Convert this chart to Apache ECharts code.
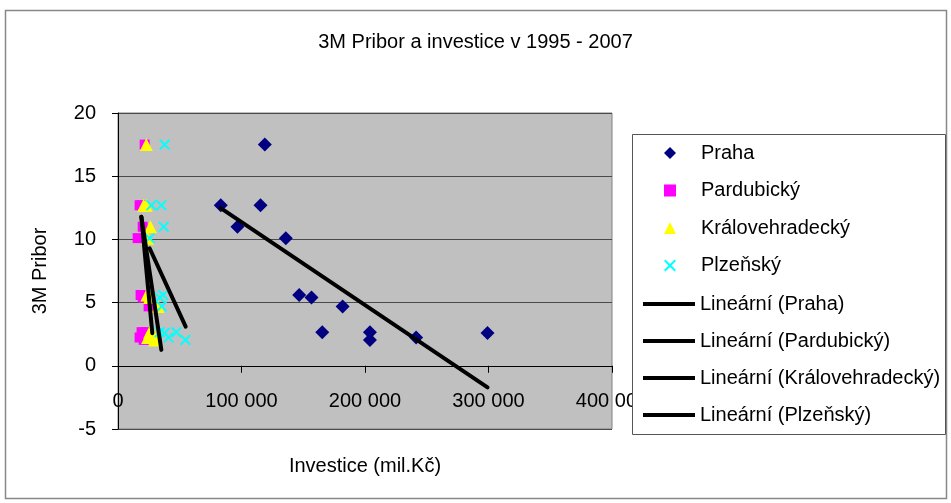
<!DOCTYPE html>
<html>
<head>
<meta charset="utf-8">
<script src="https://cdn.jsdelivr.net/npm/echarts@6/dist/echarts.min.js"></script>
<style>
  html, body { margin: 0; padding: 0; background: #fff; }
  #chart { width: 951px; height: 503px; }
</style>
</head>
<body>
<div id="chart"></div>
<script>
// roky a 3M Pribor (spolecne pro vsechny kraje)
const years = [1995, 1996, 1997, 1998, 1999, 2000, 2001, 2002, 2003, 2004, 2005, 2006, 2007];
const pribor = [11.0, 12.7, 17.5, 12.7, 10.1, 5.6, 5.4, 4.7, 2.66, 2.66, 2.05, 2.24, 2.6];

// investice (mil.Kc) podle kraju
const praha = [96700, 83200, 118900, 115400, 135900, 146700, 156700, 181900, 165400, 204000, 204000, 241400, 299200];
const pardubicky = [20000, 17500, 21600, 19100, 15900, 18300, 20000, 24800, 19100, 21600, 20800, 17500, 22400];
const kralovehradecky = [26200, 22900, 22900, 20800, 24000, 23400, 25600, 32400, 25600, 27200, 29700, 24000, 28000];
const plzensky = [37000, 27000, 37800, 35100, 25600, 36600, 33700, 35400, 33700, 47300, 54600, 41000, 37800];

// linearni trendy (koncove body)
const trendPraha = [[83200, 12.47], [299200, -1.71]];
const trendPardubicky = [[18900, 11.8], [27800, 2.58]];
const trendKralovehradecky = [[18900, 11.8], [35100, 1.26]];
const trendPlzensky = [[25600, 9.3], [54800, 3.1]];

const xTicks = [0, 100000, 200000, 300000, 400000];
const yTicks = [-5, 0, 5, 10, 15, 20];

const regionNames = ['Praha', 'Pardubický', 'Královehradecký', 'Plzeňský'];
const trendNames = regionNames.map(n => `Lineární (${n})`);

const font = "'Liberation Sans', Arial, sans-serif";
// krizek jako vyplneny tvar
const crossPath = 'path://M0,1.2L1.2,0L5,3.8L8.8,0L10,1.2L6.2,5L10,8.8L8.8,10L5,6.2L1.2,10L0,8.8L3.8,5Z';

const toPoints = xs => xs.map((x, i) => [x, pribor[i]]);

const chart = echarts.init(document.getElementById('chart'));

const scatter = (name, xs, symbol, size, color) => ({
  name,
  type: 'scatter',
  data: toPoints(xs),
  symbol,
  symbolSize: size,
  itemStyle: { color, opacity: 1 },
  z: 2
});

const trend = (name, data) => ({
  name,
  type: 'line',
  data,
  symbol: 'none',
  itemStyle: { color: '#000' },
  lineStyle: { color: '#000', width: 4, cap: 'round' },
  z: 3
});

chart.setOption({
  animation: false,
  textStyle: { fontFamily: font },
  title: {
    text: '3M Pribor a investice v 1995 - 2007',
    left: 'center',
    top: 27,
    textStyle: { fontSize: 20, fontWeight: 'normal', color: '#000', fontFamily: font }
  },
  grid: {
    left: 118,
    top: 113,
    width: 494,
    height: 316,
    outerBoundsMode: 'none',
    containLabel: false,
    show: true,
    backgroundColor: '#C0C0C0',
    borderColor: '#808080',
    borderWidth: 1
  },
  xAxis: {
    type: 'value',
    min: xTicks[0],
    max: xTicks[xTicks.length - 1],
    interval: 100000,
    name: 'Investice (mil.Kč)',
    nameLocation: 'middle',
    nameGap: 27,
    nameTextStyle: { fontSize: 20, color: '#000', fontFamily: font },
    axisLine: { onZero: true, lineStyle: { color: '#000', width: 1 } },
    axisTick: { show: true, length: 7, lineStyle: { color: '#000' } },
    axisLabel: {
      fontSize: 20,
      color: '#000',
      margin: -38,
      formatter: v => String(v).replace(/\B(?=(\d{3})+(?!\d))/g, ' ')
    },
    splitLine: { show: false }
  },
  yAxis: {
    type: 'value',
    min: yTicks[0],
    max: yTicks[yTicks.length - 1],
    interval: 5,
    name: '3M Pribor',
    nameLocation: 'middle',
    nameGap: 68,
    nameTextStyle: { fontSize: 20, color: '#000', fontFamily: font },
    axisLine: { onZero: false, lineStyle: { color: '#000', width: 1 } },
    axisTick: { show: true, length: 6, lineStyle: { color: '#000' } },
    axisLabel: { fontSize: 20, color: '#000', margin: 22 },
    splitLine: { show: true, lineStyle: { color: '#4a4a4a', width: 1 } }
  },
  legend: [
    {
      orient: 'vertical',
      left: 664,
      top: 143,
      padding: 0,
      itemWidth: 12,
      itemHeight: 12,
      itemGap: 17.5,
      selectedMode: false,
      zlevel: 1,
      z: 6,
      textStyle: { fontSize: 20, lineHeight: 20, color: '#000', fontFamily: font, padding: [0, 0, 0, 20] },
      data: regionNames
    },
    {
      orient: 'vertical',
      left: 643,
      top: 294,
      padding: 0,
      itemWidth: 52,
      itemHeight: 4,
      itemGap: 17,
      icon: 'rect',
      selectedMode: false,
      zlevel: 1,
      z: 6,
      textStyle: { fontSize: 20, lineHeight: 20, color: '#000', fontFamily: font },
      data: trendNames
    }
  ],
  graphic: [
    {
      type: 'rect',
      z: 0,
      silent: true,
      shape: { x: 5.5, y: 10.5, width: 941, height: 488 },
      style: { fill: 'none', stroke: '#888', lineWidth: 1.5 }
    },
    {
      type: 'rect',
      zlevel: 1,
      z: 0,
      silent: true,
      shape: { x: 632.5, y: 134.5, width: 313, height: 300 },
      style: { fill: '#fff', stroke: '#555', lineWidth: 1 }
    }
  ],
  series: [
    scatter(regionNames[0], praha, 'diamond', 14, '#000080'),
    scatter(regionNames[1], pardubicky, 'rect', 10, '#FF00FF'),
    scatter(regionNames[2], kralovehradecky, 'triangle', 13, '#FFFF00'),
    scatter(regionNames[3], plzensky, crossPath, 11, '#00FFFF'),
    trend(trendNames[0], trendPraha),
    trend(trendNames[1], trendPardubicky),
    trend(trendNames[2], trendKralovehradecky),
    trend(trendNames[3], trendPlzensky)
  ]
});
</script>
</body>
</html>
